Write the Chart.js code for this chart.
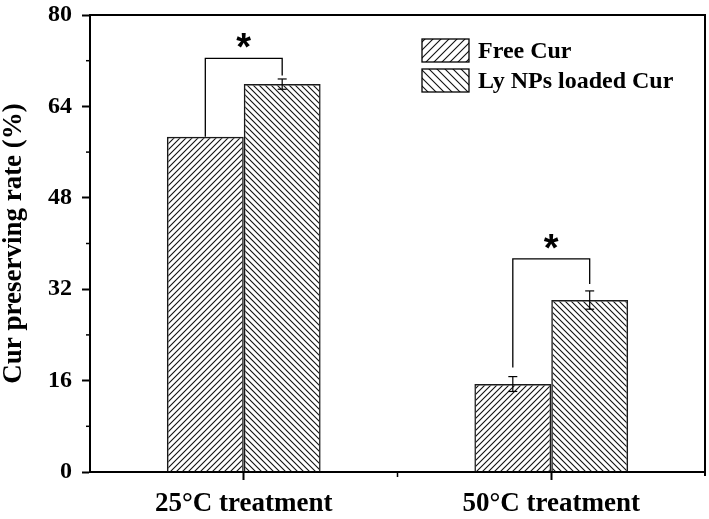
<!DOCTYPE html>
<html>
<head>
<meta charset="utf-8">
<script src="https://cdn.jsdelivr.net/npm/chart.js@4.4.0/dist/chart.umd.min.js"></script>
<style>
  html, body { margin: 0; padding: 0; background: #fff; }
  #contenedor { width: 709px; height: 519px; }
</style>
</head>
<body>
<div id="contenedor"><canvas id="graficaCur" width="709" height="519"></canvas></div>
<script>
// Datos de la gráfica
const categorias = ['25°C treatment', '50°C treatment'];
const series = ['Free Cur', 'Ly NPs loaded Cur'];
const valoresLibre = [58.7, 15.4]; // Free Cur
const valoresLy = [67.9, 30.1]; // Ly NPs loaded Cur
const errorLibre = [0, 1.3];
const errorLy = [0.9, 1.6];
// Corchetes de significancia (en unidades del eje Y)
const corcheteArriba = [72.4, 37.3];
const corcheteIzq = [58.7, 18.3];
const corcheteDer = [69.4, 32.9];
const etiquetaSignif = ['*', '*'];
// Marcas del eje Y
const marcasY = [0, 16, 32, 48, 64, 80];
const marcasMenoresY = [8, 24, 40, 56, 72];

const fuente = '"Liberation Serif", "Times New Roman", serif';

// Crea un patrón de rayas diagonales ('/' o '\')
function crearRayado(direccion, paso) {
    const c = document.createElement('canvas');
    c.width = paso;
    c.height = paso;
    const g = c.getContext('2d');
    g.strokeStyle = '#111';
    g.lineWidth = 1.1;
    g.beginPath();
    if (direccion === '/') {
        g.moveTo(-1, paso + 1); g.lineTo(paso + 1, -1);
        g.moveTo(-1, 1); g.lineTo(1, -1);
        g.moveTo(paso - 1, paso + 1); g.lineTo(paso + 1, paso - 1);
    } else {
        g.moveTo(-1, -1); g.lineTo(paso + 1, paso + 1);
        g.moveTo(paso - 1, -1); g.lineTo(paso + 1, 1);
        g.moveTo(-1, paso - 1); g.lineTo(1, paso + 1);
    }
    g.stroke();
    return g.createPattern(c, 'repeat');
}

const rayadoLibre = crearRayado('/', 6);
const rayadoLy = crearRayado('\\', 6);
const rayadoLibreLey = crearRayado('/', 8);
const rayadoLyLey = crearRayado('\\', 8);

function linea(ctx, x1, y1, x2, y2) {
    ctx.beginPath();
    ctx.moveTo(x1, y1);
    ctx.lineTo(x2, y2);
    ctx.stroke();
}

// Plugin: marco, marcas menores, barras de error, corchetes y leyenda
const extras = {
    id: 'extras',
    afterDatasetsDraw(chart) {
        const ctx = chart.ctx;
        const a = chart.chartArea;
        const y = chart.scales.y;
        const x = chart.scales.x;
        const m0 = chart.getDatasetMeta(0).data;
        const m1 = chart.getDatasetMeta(1).data;
        ctx.save();
        ctx.strokeStyle = '#000';

        // Marco superior y derecho
        ctx.lineWidth = 2;
        ctx.beginPath();
        ctx.moveTo(a.left - 1, a.top);
        ctx.lineTo(a.right, a.top);
        ctx.lineTo(a.right, a.bottom + 4);
        ctx.stroke();

        // Marcas menores
        ctx.lineWidth = 1.5;
        marcasMenoresY.forEach(v => {
            const py = y.getPixelForValue(v);
            linea(ctx, a.left - 4, py, a.left, py);
        });
        for (let i = 0; i < categorias.length - 1; i++) {
            const px = (x.getPixelForValue(i) + x.getPixelForValue(i + 1)) / 2;
            linea(ctx, px, a.bottom, px, a.bottom + 5);
        }

        // Barras de error
        ctx.lineWidth = 1.2;
        [[m0, valoresLibre, errorLibre], [m1, valoresLy, errorLy]].forEach(([barras, vals, errs]) => {
            barras.forEach((b, i) => {
                if (!errs[i]) return;
                const arriba = y.getPixelForValue(vals[i] + errs[i]);
                const abajo = y.getPixelForValue(vals[i] - errs[i]);
                linea(ctx, b.x, arriba, b.x, abajo);
                linea(ctx, b.x - 4.5, arriba, b.x + 4.5, arriba);
                linea(ctx, b.x - 4.5, abajo, b.x + 4.5, abajo);
            });
        });

        // Corchetes de significancia
        ctx.lineWidth = 1.3;
        ctx.fillStyle = '#000';
        ctx.font = 'bold 38px "Liberation Sans", Arial, sans-serif';
        ctx.textAlign = 'center';
        ctx.textBaseline = 'alphabetic';
        categorias.forEach((c, i) => {
            const xl = m0[i].x;
            const xr = m1[i].x;
            const yt = y.getPixelForValue(corcheteArriba[i]);
            ctx.beginPath();
            ctx.moveTo(xl, y.getPixelForValue(corcheteIzq[i]));
            ctx.lineTo(xl, yt);
            ctx.lineTo(xr, yt);
            ctx.lineTo(xr, y.getPixelForValue(corcheteDer[i]));
            ctx.stroke();
            ctx.fillText(etiquetaSignif[i], (xl + xr) / 2, yt + 2);
        });

        // Leyenda
        const patronesLey = [rayadoLibreLey, rayadoLyLey];
        ctx.font = 'bold 24px ' + fuente;
        ctx.textAlign = 'left';
        ctx.textBaseline = 'middle';
        ctx.lineWidth = 1.3;
        series.forEach((s, i) => {
            const bx = a.right - 283;
            const by = a.top + 24 + i * 30;
            ctx.fillStyle = patronesLey[i];
            ctx.fillRect(bx, by, 47, 23);
            ctx.strokeRect(bx, by, 47, 23);
            ctx.fillStyle = '#000';
            ctx.fillText(s, bx + 56, by + 12.5);
        });
        ctx.restore();
    }
};

const ctx = document.getElementById('graficaCur').getContext('2d');
new Chart(ctx, {
    type: 'bar',
    data: {
        labels: categorias,
        datasets: [
            { label: series[0], data: valoresLibre, backgroundColor: rayadoLibre, borderColor: '#1a1a1a', borderWidth: 1.5 },
            { label: series[1], data: valoresLy, backgroundColor: rayadoLy, borderColor: '#1a1a1a', borderWidth: 1.5 }
        ]
    },
    options: {
        responsive: false,
        animation: false,
        categoryPercentage: 0.5,
        barPercentage: 1.0,
        layout: { padding: { top: 15, right: 4, left: 0, bottom: 0 } },
        plugins: {
            legend: { display: false },
            tooltip: { enabled: false }
        },
        scales: {
            x: {
                offset: true,
                grid: { offset: false, drawOnChartArea: false, tickLength: 8, tickColor: '#000', tickWidth: 2 },
                border: { display: true, color: '#000', width: 2 },
                ticks: { color: '#000', padding: 8, font: { family: fuente, size: 27, weight: 'bold' } },
                afterFit: s => { s.height = 47; s.paddingLeft = 0; s.paddingRight = 0; }
            },
            y: {
                min: 0,
                max: 80,
                afterBuildTicks: s => { s.ticks = marcasY.map(v => ({ value: v })); },
                grid: { drawOnChartArea: false, tickLength: 8, tickColor: '#000', tickWidth: 2 },
                border: { display: true, color: '#000', width: 2 },
                ticks: { color: '#000', padding: 10, font: { family: fuente, size: 24, weight: 'bold' } },
                title: {
                    display: true,
                    text: 'Cur preserving rate (%)',
                    color: '#000',
                    padding: { top: 1, bottom: 0 },
                    font: { family: fuente, size: 27, weight: 'bold', lineHeight: 1 }
                },
                afterFit: s => { s.width = 90; s.paddingTop = 0; s.paddingBottom = 0; }
            }
        }
    },
    plugins: [extras]
});
</script>
</body>
</html>
